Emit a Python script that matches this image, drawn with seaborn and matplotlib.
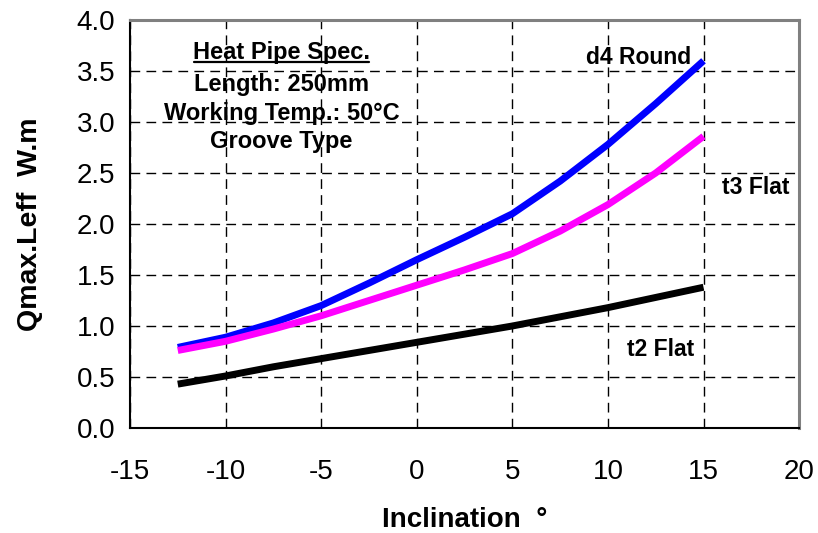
import matplotlib
matplotlib.use("Agg")
import matplotlib.pyplot as plt
from matplotlib.lines import Line2D
import seaborn as sns
import pandas as pd

inclination = [-12.5, -10, -7.5, -5, -2.5, 0, 2.5, 5, 7.5, 10, 12.5, 15]
d4_round = [0.79, 0.89, 1.03, 1.20, 1.42, 1.65, 1.87, 2.10, 2.42, 2.78, 3.18, 3.60]
t3_flat = [0.76, 0.85, 0.97, 1.10, 1.25, 1.40, 1.55, 1.71, 1.93, 2.19, 2.50, 2.86]
t2_flat = [0.43, 0.51, 0.60, 0.68, 0.76, 0.84, 0.92, 1.00, 1.09, 1.18, 1.28, 1.38]
series_names = ["d4 Round", "t3 Flat", "t2 Flat"]
series_colors = ["#0000FF", "#FF00FF", "#000000"]
x_ticks = [-15, -10, -5, 0, 5, 10, 15, 20]
y_ticks = [0.0, 0.5, 1.0, 1.5, 2.0, 2.5, 3.0, 3.5, 4.0]
spec_title = "Heat Pipe Spec."
spec_lines = ["Length: 250mm", "Working Temp.: 50°C", "Groove Type"]

sns.set_style("white")
plt.rcParams["font.family"] = ["Liberation Sans", "DejaVu Sans"]
for k in ["text.color", "axes.labelcolor", "xtick.color", "ytick.color"]:
    plt.rcParams[k] = "black"

df = pd.DataFrame({
    "x": inclination * 3,
    "y": d4_round + t3_flat + t2_flat,
    "series": sum([[n] * len(inclination) for n in series_names], []),
})

fig = plt.figure(figsize=(8.18, 5.33), dpi=100)
ax = fig.add_axes([0.1589, 0.197, 0.818, 0.7655])

sns.lineplot(data=df, x="x", y="y", hue="series", hue_order=series_names,
             palette=series_colors, linewidth=5, legend=False, ax=ax,
             sort=False, estimator=None)
for ln in ax.get_lines():
    ln.set_solid_capstyle("butt")
    ln.set_solid_joinstyle("round")

ax.set_xlim(-15, 20)
ax.set_ylim(0, 4.0)
ax.set_xticks(x_ticks)
ax.set_yticks(y_ticks)
ax.set_xticklabels([str(v) for v in x_ticks], fontsize=20)
ax.set_yticklabels([f"{v:.1f}" for v in y_ticks], fontsize=20)
ax.grid(True, color="black", linestyle=(0, (7, 4.5)), linewidth=1.0)
ax.set_axisbelow(True)
ax.tick_params(axis="x", direction="out", length=6, width=1.2, color="black", pad=16)
ax.tick_params(axis="y", direction="inout", length=11, width=1.2, color="black", pad=5)

for s in ["left", "bottom"]:
    ax.spines[s].set_color("black")
    ax.spines[s].set_linewidth(1.5)
for s in ["top", "right"]:
    ax.spines[s].set_color("#808080")
    ax.spines[s].set_linewidth(2.2)

ax.set_xlabel("Inclination  °", fontsize=20, fontweight="bold")
ax.set_ylabel("Qmax.Leff  W.m", fontsize=20.5, fontweight="bold")
ax.xaxis.set_label_coords(0.5, -0.1936)
ax.yaxis.set_label_coords(-0.13, 0.5)

t_head = ax.text(-7.07, 3.618, spec_title, fontsize=17, fontweight="bold",
                 ha="center", va="baseline")
for yy, line in zip([3.304, 3.020, 2.745], spec_lines):
    ax.text(-7.07, yy, line, fontsize=17, fontweight="bold",
            ha="center", va="baseline")

ax.text(11.6, 3.569, series_names[0], fontsize=16.5, fontweight="bold", ha="center", va="baseline")
ax.text(17.73, 2.294, series_names[1], fontsize=16.5, fontweight="bold", ha="center", va="baseline")
ax.text(12.75, 0.706, series_names[2], fontsize=16.5, fontweight="bold", ha="center", va="baseline")

fig.canvas.draw()
r = fig.canvas.get_renderer()
bb = t_head.get_window_extent(renderer=r)
inv = fig.transFigure.inverted()
base_px = ax.transData.transform((-7.07, 3.618))[1] - 3
(x0, y0), (x1, _) = inv.transform([(bb.x0 + 1, base_px), (bb.x1 - 1, base_px)])
fig.add_artist(Line2D([x0, x1], [y0, y0], color="black", linewidth=1.6,
                      transform=fig.transFigure))

fig.savefig("out.png", dpi=100)
